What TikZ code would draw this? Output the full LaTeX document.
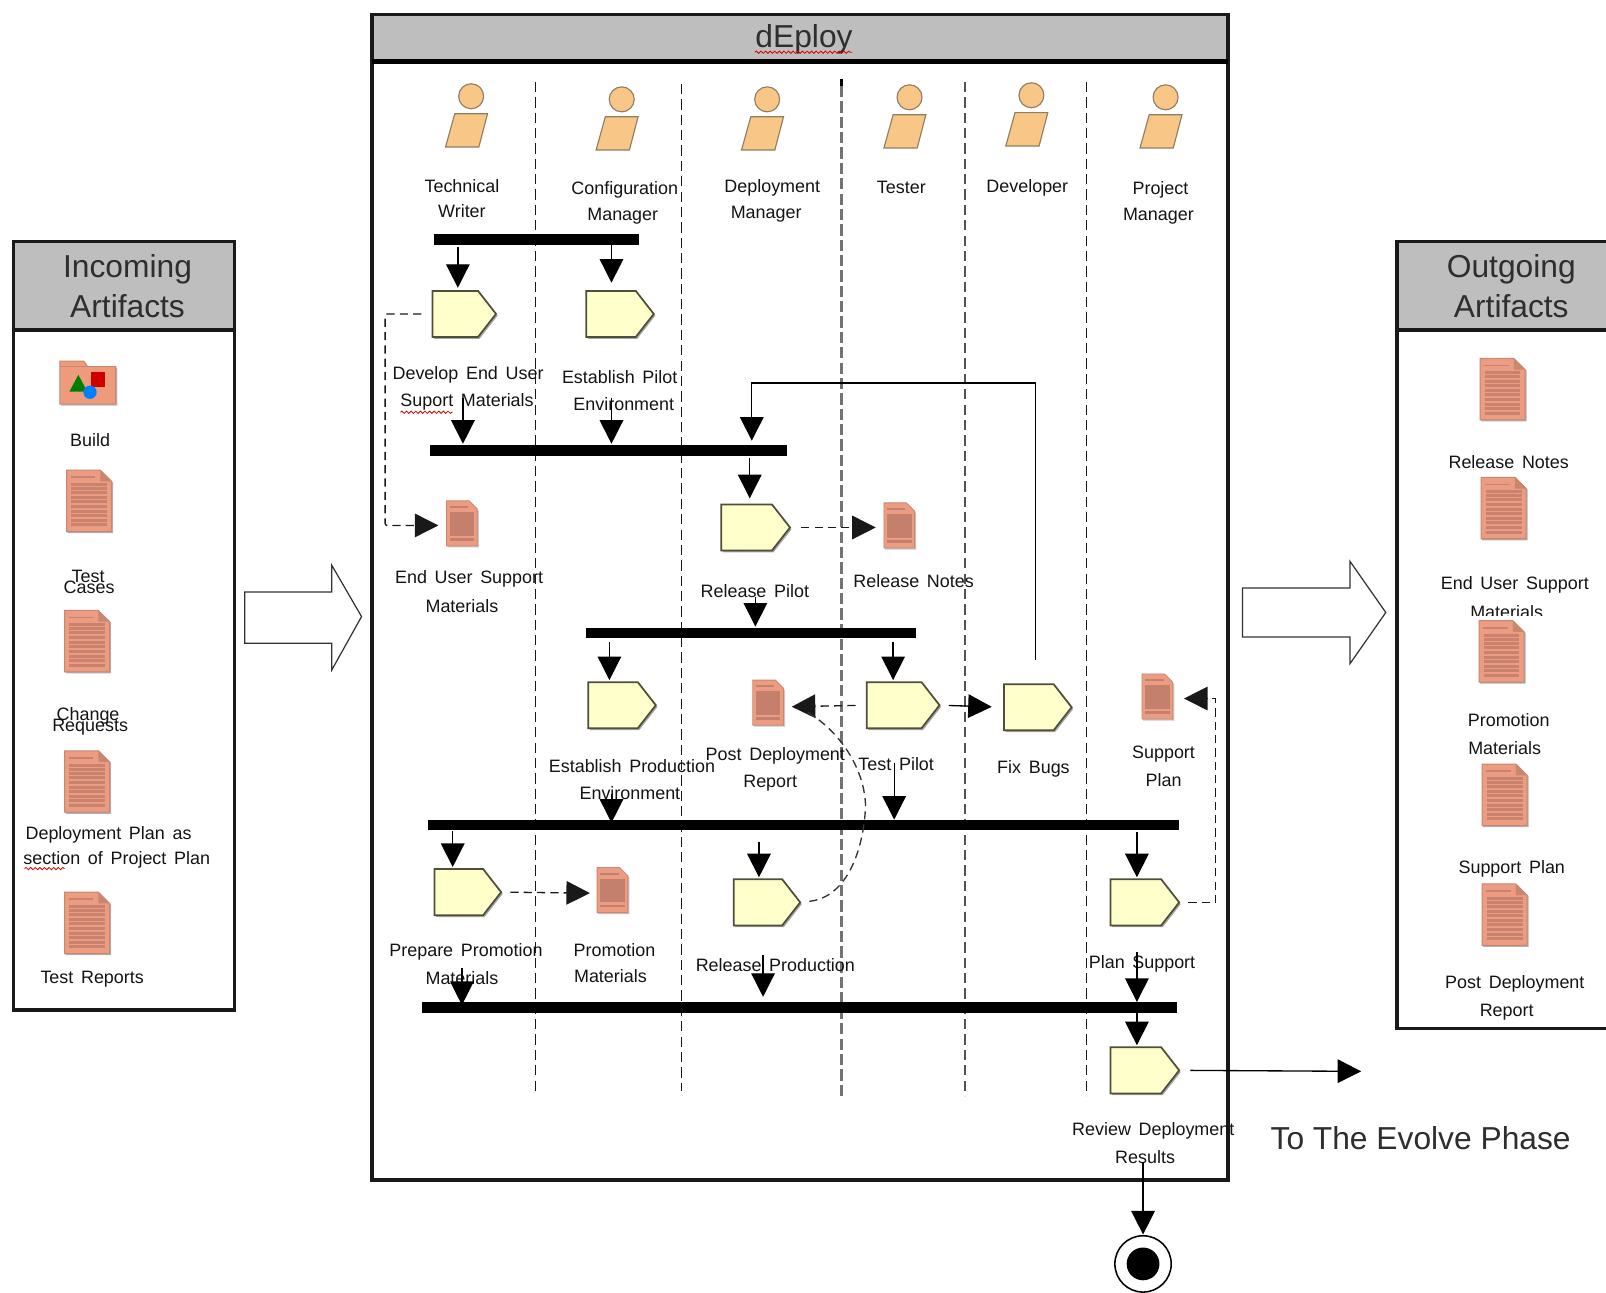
\documentclass[tikz,border=0pt]{standalone}
\usepackage{fontspec}
\setmainfont{Liberation Sans}[WordSpace=1.55]
\usetikzlibrary{arrows.meta,shapes.symbols,shadows,decorations.pathmorphing}
\definecolor{actfill}{HTML}{FFFFCC}
\definecolor{actline}{HTML}{4F4E38}
\definecolor{persfill}{HTML}{F8C686}
\definecolor{persline}{HTML}{8E7F60}
\definecolor{docfill}{HTML}{EC9C83}
\definecolor{docline}{HTML}{C8826E}
\definecolor{docedge}{HTML}{C98770}
\definecolor{docblock}{HTML}{C4806C}
\definecolor{hdr}{HTML}{BEBEBE}
\newfontfamily\titlefont{Liberation Sans}
\tikzset{
  frame/.style={line width=3.4pt,draw=black!90},
  hdrfill/.style={fill=hdr,draw=none},
  bar/.style={fill=black,inner sep=0pt,outer sep=0pt,minimum height=10.5pt},
  act/.style={signal,signal to=east,signal pointer angle=104,draw=actline,fill=actfill,line width=1.7pt,
    inner sep=0pt,outer sep=0pt,minimum height=45pt,
    drop shadow={shadow xshift=1.5pt,shadow yshift=-1.8pt,opacity=.35,fill=black}},
  lbl/.style={inner sep=0pt,yshift=-.3pt,font=\fontsize{17.5}{20}\selectfont,text=black!92},
  ttl/.style={inner sep=0pt,align=center,text=black!82,font=\titlefont\fontsize{31}{39}\selectfont},
  arr/.style={line width=1.3pt,draw=black,-{Triangle[length=23pt,width=23pt]}},
  dashc/.style={line width=1.3pt,draw=black!90,dash pattern=on 8pt off 5pt,-{Triangle[length=23pt,width=23pt]}},
  dashn/.style={line width=1.3pt,draw=black!80,dash pattern=on 8pt off 5pt},
  lane/.style={dash pattern=on 10pt off 5pt},
  wavy/.style={draw=red!85!black,line width=.8pt,decorate,decoration={snake,amplitude=1.1pt,segment length=4.5pt}},
  hollow/.style={draw=black!80,line width=1.2pt,fill=white},
  actor/.pic={
    \draw[fill=persfill,draw=persline,line width=1.1pt] (-25,49.5) -- (-16,17) -- (16,17) -- (7.5,49.5) -- cycle;
    \draw[fill=persfill,draw=persline,line width=1.1pt] (0,0) circle (12.2);
  },
  bigdoc/.pic={
    \fill[black!30] (-21,-29) -- (12,-29) -- (23.5,-18) -- (23.5,31.5) -- (-21,31.5) -- cycle;
    \draw[fill=docfill,draw=docedge,line width=1pt] (-22,-30) -- (11,-30) -- (22,-19) -- (22,30) -- (-22,30) -- cycle;
    \fill[docedge] (11,-30) -- (11,-19) -- (22,-19) -- cycle;
    \draw[docline,line width=1.6pt] (-18,-23) -- (6,-23);
    \foreach \yy in {-16,-12,-8,-3.5,1,5.5,10,14.5,19,23.5} \draw[docline,line width=2.9pt] (-17.5,\yy) -- (17.5,\yy);
  },
  smalldoc/.pic={
    \fill[black!22] (-14,-21) -- (7,-21) -- (16.5,-12) -- (16.5,23.5) -- (-14,23.5) -- cycle;
    \draw[fill=docfill,draw=docedge,line width=.8pt] (-15,-22) -- (7,-22) -- (15,-14) -- (15,22) -- (-15,22) -- cycle;
    \fill[docblock] (-12,-11) rectangle (12,12);
    \fill[docblock] (-12,14.5) rectangle (12,17);
    \fill[docblock] (-12,-17) rectangle (6,-15);
  }
}
\begin{document}
\begin{tikzpicture}[x=1pt,y=-1pt]
\useasboundingbox[fill=white] (0,0) rectangle (1568,1262.4);

% ---------- main frame
\fill[hdrfill] (363,14) rectangle (1199,60);
\draw[frame] (363,14) rectangle (1199,1152);
\draw[line width=4.2pt,draw=black] (363,60) -- (1199,60);
\node[ttl] (tDeploy) at (785,38) {dEploy};
\draw[wavy] (737,51) -- (832,51);

% ---------- incoming frame
\fill[hdrfill] (13,236) rectangle (229,322);
\draw[frame] (13,236) rectangle (229,986);
\draw[line width=3.4pt,draw=black!90] (13,322) -- (229,322);
\node[ttl] (tIn) at (124.5,279) {Incoming\\Artifacts};

% ---------- outgoing frame (runs off the right edge)
\fill[hdrfill] (1364,236) rectangle (1568,322);
\draw[frame] (1570,236) -- (1364,236) -- (1364,1004) -- (1570,1004);
\draw[line width=3.4pt,draw=black!90] (1364,322) -- (1568,322);
\node[ttl] (tOut) at (1475.5,279) {Outgoing\\Artifacts};

% ---------- big hollow arrows
\draw[hollow] (239,578) -- (324,578) -- (324,552) -- (353,602) -- (324,654) -- (324,628) -- (239,628) -- cycle;
\draw[hollow] (1213,574) -- (1318,574) -- (1318,548) -- (1353,598) -- (1318,648) -- (1318,622) -- (1213,622) -- cycle;

% ---------- swim lanes
\draw[lane,line width=1.3pt,black!90] (522.5,80) -- (522.5,1067);
\draw[lane,line width=1.2pt,black!90] (665.4,82) -- (665.4,1065);
\draw[lane,line width=3pt,black!55,dash pattern=on 11pt off 4pt] (821.5,84) -- (821.5,1070);
\draw[line width=3pt,black] (821.5,77) -- (821.5,84);
\draw[lane,line width=2pt,black!68] (942.5,80) -- (942.5,1070);
\draw[lane,line width=1.2pt,black!90] (1061,80) -- (1061,1070);

% ---------- actors
\pic at (460,94) {actor};
\pic at (607,97) {actor};
\pic at (749,97) {actor};
\pic at (888,95) {actor};
\pic at (1007,93) {actor};
\pic at (1138,95) {actor};

% ---------- bars
\node[bar,minimum width=200pt] (bar1) at (524,234) {};
\node[bar,minimum width=348pt] (bar2) at (594,439.5) {};
\node[bar,minimum width=322pt] (bar3) at (733,618) {};
\node[bar,minimum width=733pt] (bar4) at (784.5,805.5) {};
\node[bar,minimum width=737pt] (bar5) at (780.5,983.5) {};

% ---------- activities
\node[act,minimum width=62pt] (a1) at (444.5,306.5) {};
\node[act,minimum width=66pt] (a2) at (596.5,306.5) {};
\node[act,minimum width=67pt] (a3) at (729,515) {};
\node[act,minimum width=66pt] (a4) at (598.5,688.5) {};
\node[act,minimum width=71pt] (a5) at (873,688.5) {};
\node[act,minimum width=66pt] (a6) at (1004.5,690.5) {};
\node[act,minimum width=65pt] (a7) at (448,871) {};
\node[act,minimum width=65pt] (a8) at (740,881) {};
\node[act,minimum width=67pt] (a9) at (1109,881) {};
\node[act,minimum width=67pt] (a10) at (1109,1045) {};

% ---------- artifacts inside the phase
\coordinate (dEnd) at (451,511);  \pic at (dEnd) {smalldoc};
\coordinate (dRel) at (878,513);  \pic at (dRel) {smalldoc};
\coordinate (dPost) at (750,686); \pic at (dPost) {smalldoc};
\coordinate (dSup) at (1130,680); \pic at (dSup) {smalldoc};
\coordinate (dPro) at (598,869);  \pic at (dPro) {smalldoc};

% ---------- incoming artifacts
\fill[black!25] (60,354) -- (84,354) -- (87,359.5) -- (114.5,359.5) -- (114.5,396) -- (60,396) -- cycle;
\draw[fill=docfill!95!orange,draw=docedge,line width=1pt] (58.5,352.6) -- (82,352.6) -- (85,358) -- (113,358) -- (113,394.6) -- (58.5,394.6) -- cycle;
\draw[docedge,line width=.8pt] (58.5,358) -- (85,358);
\fill[red!80!black] (88.5,363.5) rectangle (102.8,377.5);
\fill[green!50!black] (76.5,366) -- (85.3,382.4) -- (67.7,382.4) -- cycle;
\fill[blue!50!cyan] (87.9,383) circle (6.5);
\pic at (87,489) {bigdoc};
\pic at (85,626) {bigdoc};
\pic at (85,763) {bigdoc};
\pic at (85,901) {bigdoc};

% ---------- outgoing artifacts
\pic at (1467,380) {bigdoc};
\pic at (1468,496) {bigdoc};
\pic at (1466,636) {bigdoc};
\pic at (1469,776) {bigdoc};
\pic at (1469,893) {bigdoc};

% ---------- labels
\node[lbl] (l1a) at (451,181) {Technical};
\node[lbl] (l1b) at (451,206) {Writer};
\node[lbl] (l2a) at (610,185) {Configuration};
\node[lbl] (l2b) at (608,211) {Manager};
\node[lbl] (l3a) at (754,183) {Deployment};
\node[lbl] (l3b) at (748,209) {Manager};
\node[lbl] (l4) at (880,183) {Tester};
\node[lbl] (l5) at (1003,183) {Developer};
\node[lbl] (l6a) at (1133,185) {Project};
\node[lbl] (l6b) at (1131,211) {Manager};
\node[lbl] (l7a) at (457,366) {Develop End User};
\node[lbl] (l7b) at (456,392) {Suport Materials};
\node[lbl] (l8a) at (605,368) {Establish Pilot};
\node[lbl] (l8b) at (609,394) {Environment};
\node[lbl] (l9a) at (458,565) {End User Support};
\node[lbl] (l9b) at (451,591) {Materials};
\node[lbl] (l10) at (737,577) {Release Pilot};
\node[lbl] (l11) at (892,567) {Release Notes};
\node[lbl] (l12a) at (617,748) {Establish Production};
\node[lbl] (l12b) at (615,774) {Environment};
\node[lbl] (l13a) at (757,738) {Post Deployment};
\node[lbl] (l13b) at (752,764) {Report};
\node[lbl] (l14) at (875,746) {Test Pilot};
\node[lbl] (l15) at (1009,750) {Fix Bugs};
\node[lbl] (l16a) at (1136,736) {Support};
\node[lbl] (l16b) at (1136,761) {Plan};
\node[lbl] (l17a) at (455,929) {Prepare Promotion};
\node[lbl] (l17b) at (451,955) {Materials};
\node[lbl] (l18a) at (600,927) {Promotion};
\node[lbl] (l18b) at (596,953) {Materials};
\node[lbl] (l19) at (757,942) {Release Production};
\node[lbl] (l20) at (1115,941) {Plan Support};
\node[lbl] (l21a) at (1126,1104) {Review Deployment};
\node[lbl] (l21b) at (1118,1129) {Results};
\draw[wavy] (391,402.5) -- (442,402.5);

\node[lbl] (i1) at (88,429) {Build};
\node[lbl] (i2a) at (86,562) {Test};
\node[lbl] (i2b) at (87,573) {Cases};
\node[lbl] (i3a) at (86,699) {Change};
\node[lbl] (i3b) at (88,710) {Requests};
\node[lbl] (i4a) at (106,815) {Deployment Plan as};
\node[lbl] (i4b) at (114,839) {section of Project Plan};
\node[lbl] (i5) at (90,956) {Test Reports};
\draw[wavy] (24,848) -- (63,848);

\node[lbl] (o1) at (1473,451) {Release Notes};
\node[lbl] (o2a) at (1479,571) {End User Support};
\begin{scope}
\clip (1420,586) rectangle (1520,601);
\node[lbl] (o2b) at (1471,597) {Materials};
\end{scope}
\node[lbl] (o3a) at (1473,703) {Promotion};
\node[lbl] (o3b) at (1469,730) {Materials};
\node[lbl] (o4) at (1476,848) {Support Plan};
\node[lbl] (o5a) at (1479,960) {Post Deployment};
\node[lbl] (o5b) at (1471,988) {Report};

\node[ttl] (tEv) at (1387,1111) {To The Evolve Phase};

% ---------- final node
\draw[line width=1.5pt,black,fill=white] (1116,1234) circle (27.5);
\node[circle,fill=black,minimum size=32pt,inner sep=0pt] (finalin) at (1116,1234) {};
\node[circle,minimum size=55pt,inner sep=0pt] (final) at (1116,1234) {};

% ---------- control flow
\draw[arr,shorten <=2pt,shorten >=3pt] ([xshift=2.5pt]a1.north |- bar1.south) -- ([xshift=2.5pt]a1.north);
\draw[arr,shorten >=8pt] ([xshift=.5pt]a2.north |- bar1.south) -- ([xshift=.5pt]a2.north);
\draw[arr,shorten <=60pt,shorten >=1pt] ([xshift=7.5pt]a1.south) -- ([xshift=7.5pt]a1.south |- bar2.north);
\draw[arr,shorten <=60pt,shorten >=1pt] ([xshift=.5pt]a2.south) -- ([xshift=.5pt]a2.south |- bar2.north);
\draw[arr,shorten <=2pt,shorten >=6pt] ([xshift=3pt]a3.north |- bar2.south) -- ([xshift=3pt]a3.north);
\draw[arr,shorten <=45pt,shorten >=1pt] ([xshift=8.5pt]a3.south) -- ([xshift=8.5pt]a3.south |- bar3.north);
\draw[arr,shorten <=4pt,shorten >=2pt] ([xshift=-3.5pt]a4.north |- bar3.south) -- ([xshift=-3.5pt]a4.north);
\draw[arr,shorten <=4pt,shorten >=2pt] ([xshift=-1pt]a5.north |- bar3.south) -- ([xshift=-1pt]a5.north);
\draw[arr,shorten <=64pt,shorten >=-3pt] ([xshift=-1.5pt]a4.south) -- ([xshift=-1.5pt]a4.south |- bar4.north);
\draw[arr,shorten <=34pt] (a5.south) -- (a5.south |- bar4.north);
\draw[arr,shorten <=1pt,shorten >=2pt] ([xshift=-6pt]a7.north |- bar4.south) -- ([xshift=-6pt]a7.north);
\draw[arr,shorten <=11pt,shorten >=2pt] ([xshift=1pt]a8.north |- bar4.south) -- ([xshift=1pt]a8.north);
\draw[arr,shorten <=2pt,shorten >=2pt] ([xshift=1pt]a9.north |- bar4.south) -- ([xshift=1pt]a9.north);
\draw[arr,shorten <=52pt,shorten >=-3pt] ([xshift=3pt]a7.south) -- ([xshift=3pt]a7.south |- bar5.north);
\draw[arr,shorten <=29pt,shorten >=5pt] ([xshift=5pt]a8.south) -- ([xshift=5pt]a8.south |- bar5.north);
\draw[arr,shorten <=26pt] ([xshift=1pt]a9.south) -- ([xshift=1pt]a9.south |- bar5.north);
\draw[arr,shorten >=2pt] ([xshift=1pt]a10.north |- bar5.south) -- ([xshift=1pt]a10.north);
% feedback from Fix Bugs
\coordinate (fbR) at (1011,374);
\coordinate (fbL) at (734,374);
\draw[arr,shorten <=24pt,shorten >=4pt] (fbR |- a6.north) -- (fbR) -- (fbL) -- (fbL |- bar2.north);
% Test Pilot to Fix Bugs
\draw[arr,shorten <=9pt,shorten >=12pt] (a5.east) -- (a6.west);
% to the Evolve phase
\coordinate (toEvolve) at (1329,1046);
\draw[arr,shorten <=11pt] (a10.east) -- (toEvolve);
% to final node
\draw[arr,shorten <=67pt,shorten >=1pt] ([xshift=7pt]a10.south) -- (final.north);

% ---------- object flow
\coordinate (dEndIn) at (428,513);
\coordinate (dRelIn) at (855,515);
\coordinate (dPostIn) at (773,690);
\coordinate (dSupIn) at (1156,682);
\coordinate (dProIn) at (576,872);
\coordinate (c1) at (376,306.5);
\coordinate (c2) at (1187,881);
\coordinate (cvMid) at (845,785);
\coordinate (cvEnd) at (786,694);
\draw[dashc,shorten <=11pt,rounded corners=2pt] (a1.west) -- (c1) -- (c1 |- dEndIn) -- (dEndIn);
\draw[dashc,shorten <=11pt] (a3.east) -- (dRelIn);
\draw[dashc,shorten <=11pt] (a5.west) -- (dPostIn);
\draw[dashc,shorten <=9pt] (a7.east) -- (dProIn);
\draw[dashc,shorten <=9pt] (a9.east) -- (c2) -- (c2 |- dSupIn) -- (dSupIn);
\draw[dashn,shorten <=9pt] (a8.east) .. controls (835,875) and (845,810) .. (cvMid) .. controls (843,745) and (815,710) .. (cvEnd);
\end{tikzpicture}
\end{document}
